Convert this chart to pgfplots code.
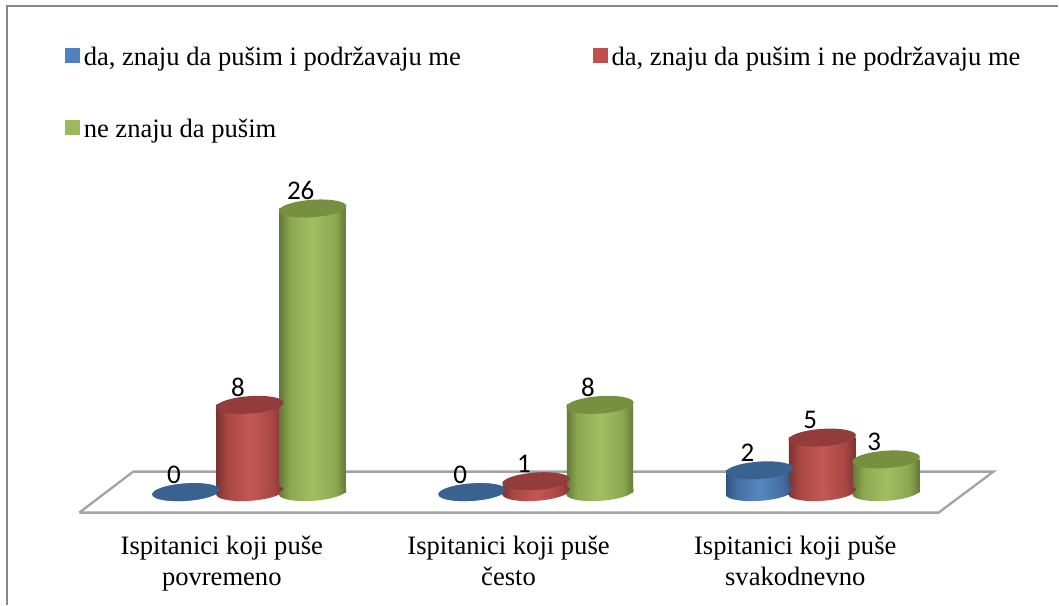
\documentclass[border=0pt]{standalone}
\usepackage{pgfplots}
\usepackage{pgfplotstable}
\pgfplotsset{compat=1.18}
\usepackage{fontspec}
\setmainfont{Liberation Serif}
\newfontfamily\calibri{Carlito}
\definecolor{cblue}{HTML}{4F81BD}
\definecolor{cred}{HTML}{C0504D}
\definecolor{cgreen}{HTML}{9BBB59}
\definecolor{tblue}{HTML}{3A6291}
\definecolor{tred}{HTML}{923D3B}
\definecolor{tgreen}{HTML}{76903F}
\pgfdeclarehorizontalshading{cylblue}{100bp}{
 color(0bp)=(tblue!85!black); color(25bp)=(tblue!85!black); color(33bp)=(cblue!85!black); color(50bp)=(cblue!95!white); color(67bp)=(cblue!85!black); color(75bp)=(tblue!85!black); color(100bp)=(tblue!85!black)}
\pgfdeclarehorizontalshading{cylred}{100bp}{
 color(0bp)=(tred!85!black); color(25bp)=(tred!85!black); color(33bp)=(cred!88!black); color(50bp)=(cred!95!white); color(67bp)=(cred!88!black); color(75bp)=(tred!85!black); color(100bp)=(tred!85!black)}
\pgfdeclarehorizontalshading{cylgreen}{100bp}{
 color(0bp)=(tgreen!85!black); color(25bp)=(tgreen!85!black); color(33bp)=(cgreen!90!black); color(50bp)=(cgreen!95!white); color(67bp)=(cgreen!90!black); color(75bp)=(tgreen!85!black); color(100bp)=(tgreen!85!black)}
\pgfdeclareplotmark{topE}{\pgftransformrotate{4}\pgfpathellipse{\pgfpointorigin}{\pgfqpoint{33.8pt}{0pt}}{\pgfqpoint{0pt}{8.7pt}}\pgfusepathqfill}
\pgfdeclareplotmark{baseblue}{\pgftransformrotate{4}\pgfpathellipse{\pgfpointorigin}{\pgfqpoint{33.8pt}{0pt}}{\pgfqpoint{0pt}{8.7pt}}\pgfshadepath{cylblue}{0}\pgfusepath{discard}}
\pgfdeclareplotmark{basered}{\pgftransformrotate{4}\pgfpathellipse{\pgfpointorigin}{\pgfqpoint{33.8pt}{0pt}}{\pgfqpoint{0pt}{8.7pt}}\pgfshadepath{cylred}{0}\pgfusepath{discard}}
\pgfdeclareplotmark{basegreen}{\pgftransformrotate{4}\pgfpathellipse{\pgfpointorigin}{\pgfqpoint{33.8pt}{0pt}}{\pgfqpoint{0pt}{8.7pt}}\pgfshadepath{cylgreen}{0}\pgfusepath{discard}}
\pgfplotstableread{
x y b
-0.125 0 0
0.873 0 0
1.875 2 0
}\tblblue
\pgfplotstableread{
x y b
0.098 8 0
1.096 1 0
2.094 5 0
}\tblred
\pgfplotstableread{
x y b
0.317 26 0
1.319 8 0
2.317 3 0
}\tblgreen
\pgfplotsset{lab/.style={nodes near coords,point meta=explicit symbolic,
  every node near coord/.style={anchor=center,xshift=-12pt,yshift=17.5pt,font=\calibri\fontsize{27}{27}\selectfont,color=black}},
  body/.style={forget plot,ybar,bar width=66.5pt,bar shift=0pt,draw=none},
  g1/.style={restrict x to domain=-0.5:0.5},
  g2/.style={restrict x to domain=0.5:1.5},
  g3/.style={restrict x to domain=1.5:2.5}}
\begin{document}
\begin{tikzpicture}
\begin{axis}[
  scale only axis, width=1059pt, height=605pt,
  at={(0,0)}, anchor=south west,
  xmin=-0.7735, xmax=2.9164,
  ymin=-10.302, ymax=45.1,
  clip=false,
  axis line style={draw=none},
  ytick=\empty,
  xtick={0,1,2},
  xticklabels={{Ispitanici koji puše\\povremeno},{Ispitanici koji puše\\često},{Ispitanici koji puše\\svakodnevno}},
  major tick length=0pt,
  x tick label style={align=center,font=\fontsize{26.6}{31}\selectfont,anchor=north,yshift=72pt},
  legend columns=2,
  legend cell align=left,
  legend style={draw=none,fill=none,at={(0.0618,0.925)},anchor=north west,font=\fontsize{26.6}{28}\selectfont,
    inner sep=0pt,outer sep=0pt,
    /tikz/every even column/.append style={column sep=130.5pt},
    row sep=47.5pt},
]
% outer frame
\draw[color=black!47,line width=2pt] (axis cs:-0.7475,-10.302) -- (axis cs:-0.7475,44.55) -- (axis cs:2.9164,44.55);
% floor
\addplot[forget plot,sharp plot,draw=black!36,line width=2.3pt,fill=white,mark=none] coordinates {(-0.497,-1.877) (2.500,-1.877) (2.691,1.877) (-0.309,1.877) (-0.497,-1.877)};
% legend entries
\addlegendimage{legend image code/.code={\fill[cblue] (0pt,-5pt) rectangle (14pt,9pt);\path (16pt,0pt);}}
\addlegendentry{da, znaju da pušim i podržavaju me}
\addlegendimage{legend image code/.code={\fill[cred] (0pt,-5pt) rectangle (14pt,9pt);\path (16pt,0pt);}}
\addlegendentry{da, znaju da pušim i ne podržavaju me}
\addlegendimage{legend image code/.code={\fill[cgreen] (0pt,-5pt) rectangle (14pt,9pt);\path (16pt,0pt);}}
\addlegendentry{ne znaju da pušim}
% blue
\addplot[forget plot,sharp plot,only marks,draw=none,mark=baseblue] table[x=x,y=b] {\tblblue};
\addplot[body,shading=cylblue,g3] table[x=x,y=y] {\tblblue};
\addplot[forget plot,sharp plot,only marks,mark=topE,mark options={draw=none,fill=tblue},lab] table[x=x,y=y,meta=y] {\tblblue};
% red
\addplot[forget plot,sharp plot,only marks,draw=none,mark=basered] table[x=x,y=b] {\tblred};
\addplot[body,shading=cylred,g1] table[x=x,y=y] {\tblred};
\addplot[body,shading=cylred,g2] table[x=x,y=y] {\tblred};
\addplot[body,shading=cylred,g3] table[x=x,y=y] {\tblred};
\addplot[forget plot,sharp plot,only marks,mark=topE,mark options={draw=none,fill=tred},lab] table[x=x,y=y,meta=y] {\tblred};
% green
\addplot[forget plot,sharp plot,only marks,draw=none,mark=basegreen] table[x=x,y=b] {\tblgreen};
\addplot[body,shading=cylgreen,g1] table[x=x,y=y] {\tblgreen};
\addplot[body,shading=cylgreen,g2] table[x=x,y=y] {\tblgreen};
\addplot[body,shading=cylgreen,g3] table[x=x,y=y] {\tblgreen};
\addplot[forget plot,sharp plot,only marks,mark=topE,mark options={draw=none,fill=tgreen},lab] table[x=x,y=y,meta=y] {\tblgreen};
\end{axis}
\end{tikzpicture}
\end{document}
